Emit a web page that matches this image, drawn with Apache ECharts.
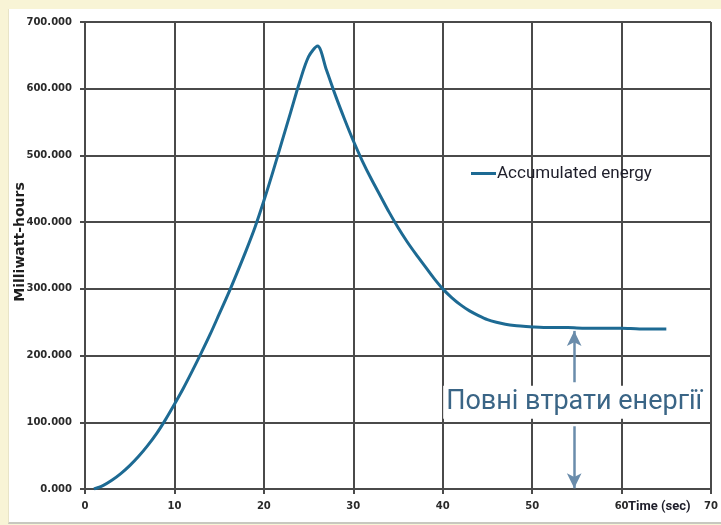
<!DOCTYPE html>
<html>
<head>
<meta charset="utf-8">
<script src="https://cdn.jsdelivr.net/npm/echarts@6/dist/echarts.min.js"></script>
<style>
html,body{margin:0;padding:0;background:#f8f4d6;}
#panel{position:absolute;left:8px;top:9px;width:713px;height:513px;background:#ffffff;border-bottom:2px solid #c8c8c0;border-left:1px solid #e8e4c8;}
#chart{position:absolute;left:0;top:0;width:721px;height:525px;}
</style>
</head>
<body>
<div id="panel"></div>
<div id="chart"></div>
<script>
// Data
var timeSec = [1, 2, 3, 4, 5, 6, 7, 8, 9, 10, 11, 12, 13, 14, 15, 16, 17, 18, 19, 20, 21, 22, 23, 24, 25, 26, 27, 28, 29, 30, 31, 32, 33, 34, 35, 36, 37, 38, 39, 40, 41, 42, 43, 44, 45, 46, 47, 48, 49, 50, 52, 54, 56, 58, 60, 62, 65];
var energy  = [0, 5, 13, 23, 35, 49, 65, 83, 104, 127, 151, 177, 204, 232, 262, 292, 324, 357, 392, 432, 475, 520, 565, 610, 648, 664, 628, 590, 555, 522, 492, 465, 440, 415, 392, 371, 352, 334, 316, 300, 287, 276, 267, 260, 254, 250, 247, 245, 244, 243, 242, 242, 241, 241, 241, 240, 240];
var seriesName = 'Accumulated energy';
var yTicks = [0, 100, 200, 300, 400, 500, 600, 700];
var xTicks = [0, 10, 20, 30, 40, 50, 60, 70];
var yAxisTitle = 'Milliwatt-hours';
var xAxisTitle = 'Time (sec)';
var annotationText = 'Повні втрати енергії';
var annotationX = 54.7;
var arrowUp = [160, 237];     // shaft start, arrow tip (Milliwatt-hours)
var arrowDown = [94, 1];
var annotationY = 130;

var chart = echarts.init(document.getElementById('chart'), null, {renderer: 'canvas'});
var pts = timeSec.map(function (t, i) { return [t, energy[i]]; });
var arrowColor = '#6a8cab';
var gridColor = '#4a4a4a';

chart.setOption({
  backgroundColor: 'transparent',
  animation: false,
  grid: {left: 85, right: 7, top: 22, bottom: 36, containLabel: false},
  legend: {
    left: 466, top: 160,
    icon: 'rect', itemWidth: 25, itemHeight: 3, itemGap: 0,
    textStyle: {fontFamily: "Roboto, sans-serif", fontSize: 17, color: '#1e1e2a', padding: [0, 0, 0, -4]},
    data: [seriesName]
  },
  xAxis: {
    type: 'value', min: xTicks[0], max: xTicks[xTicks.length - 1], interval: 10,
    axisLine: {show: true, onZero: false, lineStyle: {color: gridColor, width: 2}},
    axisTick: {show: true, length: 5, lineStyle: {color: gridColor, width: 2}},
    axisLabel: {margin: 12, fontFamily: "'DejaVu Sans', sans-serif", fontWeight: 'bold', fontSize: 10, color: '#2a2a2a'},
    splitLine: {show: true, lineStyle: {color: gridColor, width: 2}}
  },
  yAxis: {
    type: 'value', min: yTicks[0], max: yTicks[yTicks.length - 1], interval: 100,
    axisLine: {show: true, lineStyle: {color: gridColor, width: 2}},
    axisTick: {show: true, length: 5, lineStyle: {color: gridColor, width: 2}},
    axisLabel: {margin: 13, fontFamily: "'DejaVu Sans', sans-serif", fontWeight: 'bold', fontSize: 10, color: '#2a2a2a',
      formatter: function (v) { return v.toFixed(3); }},
    splitLine: {show: true, lineStyle: {color: gridColor, width: 2}}
  },
  graphic: [{
    type: 'text', left: 628, top: 500, z: 100,
    style: {text: xAxisTitle, fontFamily: "Roboto, sans-serif", fontWeight: 'bold', fontSize: 13, fill: '#1e1e2a'}
  }, {
    type: 'text', x: 20, y: 242, rotation: Math.PI / 2, z: 100,
    style: {text: yAxisTitle, fontFamily: "'DejaVu Sans', sans-serif", fontWeight: 'bold', fontSize: 14, fill: '#1e1e1e',
      textAlign: 'center', textVerticalAlign: 'middle'}
  }],
  series: [{
    name: seriesName, type: 'line', data: pts, smooth: 0.3, showSymbol: false,
    lineStyle: {color: '#1d6a93', width: 3}, itemStyle: {color: '#1d6a93'},
    z: 3,
    markLine: {
      silent: true, symbol: ['none', 'arrow'], symbolSize: [11, 15],
      label: {show: false},
      lineStyle: {color: arrowColor, width: 2.5, type: 'solid'},
      data: [
        [{coord: [annotationX, arrowUp[0]]}, {coord: [annotationX, arrowUp[1]]}],
        [{coord: [annotationX, arrowDown[0]]}, {coord: [annotationX, arrowDown[1]]}]
      ]
    },
    markPoint: {
      silent: true, symbol: 'rect', symbolSize: 1,
      itemStyle: {color: 'rgba(0,0,0,0)'},
      label: {show: true, position: 'inside', formatter: annotationText,
        fontFamily: "Roboto, sans-serif", fontSize: 27, color: '#3a6586',
        backgroundColor: '#ffffff', padding: [3, 3, 3, 3]},
      data: [{coord: [annotationX, annotationY]}]
    }
  }]
});
</script>
</body>
</html>
